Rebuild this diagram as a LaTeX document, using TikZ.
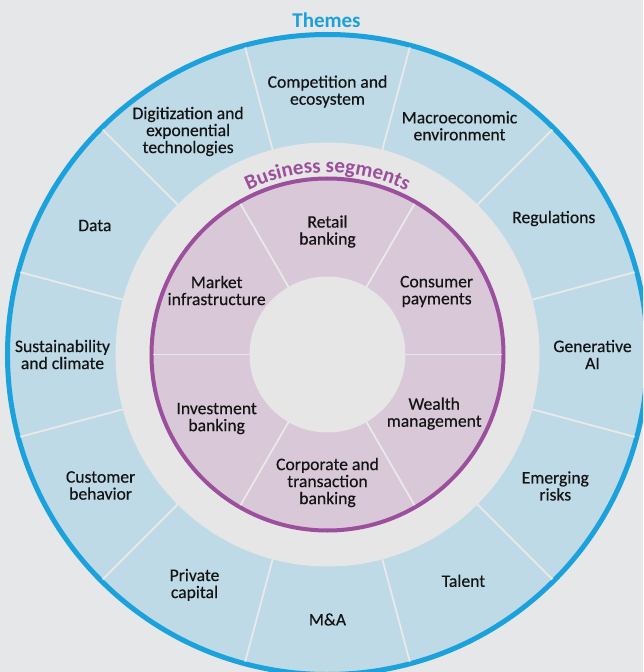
\documentclass[tikz,border=0pt]{standalone}
\usepackage{fontspec}
\setmainfont{Carlito}
\newfontfamily\labelfont{Carlito}[FakeBold=0.4]
\usepackage{xcolor}
\usepackage{tikz}
\usetikzlibrary{positioning}
\usetikzlibrary{decorations.text}

\definecolor{pagebg}{HTML}{E6E7E9}
\definecolor{themefill}{HTML}{BDDAE6}
\definecolor{themeline}{HTML}{1BA1DB}
\definecolor{ringgray}{HTML}{E6E6E6}
\definecolor{segfill}{HTML}{D8C8D8}
\definecolor{segline}{HTML}{9C4F9C}
\definecolor{divider}{HTML}{E9E9EA}
\definecolor{labeltext}{HTML}{141414}

\tikzset{
  theme/.style={align=center, text=labeltext, font=\labelfont\fontsize{17.6}{17}\selectfont},
  segment/.style={align=center, text=labeltext, font=\labelfont\fontsize{17.6}{17}\selectfont},
  sepline/.style={draw=divider, line width=1.8pt}
}

\begin{document}
\begin{tikzpicture}
                \useasboundingbox (-327.5pt,-317.5pt) rectangle (315.5pt,354.5pt);
                \clip (-327.5pt,-317.5pt) rectangle (315.5pt,354.5pt);
                \fill[pagebg] (-327.5pt,-317.5pt) rectangle (315.5pt,354.5pt);
                % themes ring
                \filldraw[fill=themefill, draw=themeline, line width=5pt] (0,0) circle[radius=320pt];
                \foreach \a in {15,45,...,345}
                    \draw[sepline] (\a:212pt) -- (\a:318pt);
                \fill[ringgray] (0,0) circle[radius=212pt];
                % business segments ring
                \filldraw[fill=segfill, draw=segline, line width=4pt] (0,0) circle[radius=176pt];
                \foreach \a in {0,60,...,300}
                    \draw[sepline] (\a:78pt) -- (\a:174pt);
                \fill[ringgray] (0,0) circle[radius=78pt];
                \node (themes) [text=themeline, font=\fontsize{21}{21}\selectfont\bfseries] at (-1pt,334.5pt) {Themes};
                \path[decorate, decoration={text along path, text align=center,
                    text={|\fontsize{21}{21}\selectfont\bfseries\color{segline}|Business segments}}]
                    (120:182pt) arc[start angle=120, end angle=60, radius=182pt];
                % themes
                \node (compet) [theme] at (90:263pt) {Competition and\\ecosystem};
                \node (macro) [theme] at (60:264pt) {Macroeconomic\\environment};
                \node (regul) [theme] at (31:264pt) {Regulations};
                \node (genai) [theme] at (0:265pt) {Generative\\AI};
                \node (emerg) [theme] at (-30:263pt) {Emerging\\risks};
                \node (talent) [theme] at (-59:264pt) {Talent};
                \node (manda) [theme] at (-90:265pt) {M\&A};
                \node (privcap) [theme] at (-120:266pt) {Private\\capital};
                \node (custbeh) [theme] at (-150:262pt) {Customer\\behavior};
                \node (sustain) [theme] at (180:265pt) {Sustainability\\and climate};
                \node (data) [theme] at (151:266pt) {Data};
                \node (digit) [theme] at (122:263pt) {Digitization and\\exponential\\technologies};
                % business segments
                \node (retail) [segment] at (90:123pt) {Retail\\banking};
                \node (consumer) [segment] at (30:126pt) {Consumer\\payments};
                \node (wealth) [segment] at (-29:122pt) {Wealth\\management};
                \node (corporate) [segment] at (-90:128pt) {Corporate and\\transaction\\banking};
                \node (investment) [segment] at (-150:128pt) {Investment\\banking};
                \node (market) [segment] at (150:128pt) {Market\\infrastructure};
            \end{tikzpicture}
\end{document}
